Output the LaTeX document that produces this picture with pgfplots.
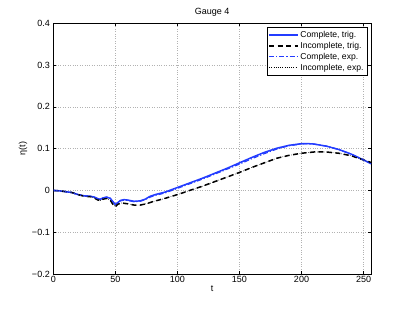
\documentclass[border=0pt]{standalone}
\usepackage{pgfplots}
\pgfplotsset{compat=1.18}
\usepackage{fontspec}
\setmainfont{Liberation Sans}
\definecolor{mblue}{RGB}{35,60,255}
\pgfplotstableread{
t y
0 0
5 -0.001
10 -0.003
15 -0.005
20 -0.010
25 -0.013
30 -0.014
33 -0.016
36 -0.020
38 -0.021
40 -0.018
43 -0.016
46 -0.019
48 -0.027
50 -0.034
52 -0.029
54 -0.024
57 -0.022
60 -0.023
65 -0.026
70 -0.025
74 -0.021
78 -0.014
82 -0.010
90 -0.004
100 0.007
110 0.018
120 0.029
130 0.041
140 0.053
150 0.066
160 0.079
170 0.091
180 0.101
190 0.108
200 0.112
205 0.112
210 0.111
220 0.106
230 0.098
240 0.087
250 0.073
256 0.064
}\comptrig
\pgfplotstableread{
t y
0 0
5 -0.001
10 -0.003
15 -0.005
20 -0.010
25 -0.013
30 -0.014
33 -0.016
36 -0.020
38 -0.021
40 -0.018
43 -0.016
46 -0.019
48 -0.027
50 -0.033
52 -0.029
54 -0.025
57 -0.023
60 -0.024
65 -0.027
70 -0.026
74 -0.022
78 -0.016
82 -0.012
90 -0.006
100 0.005
110 0.016
120 0.027
130 0.039
140 0.051
150 0.063
160 0.076
170 0.088
180 0.099
190 0.107
200 0.111
205 0.112
210 0.111
220 0.106
230 0.098
240 0.087
250 0.073
256 0.064
}\compexp
\pgfplotstableread{
t y
0 0
5 -0.001
10 -0.003
15 -0.005
20 -0.010
25 -0.014
30 -0.015
33 -0.018
36 -0.023
38 -0.024
40 -0.021
43 -0.019
46 -0.024
48 -0.033
50 -0.039
52 -0.033
55 -0.030
60 -0.032
65 -0.035
70 -0.035
75 -0.032
80 -0.027
90 -0.019
100 -0.010
110 0.000
120 0.010
130 0.021
140 0.032
150 0.043
160 0.055
170 0.066
180 0.077
190 0.084
200 0.089
210 0.092
220 0.092
230 0.089
240 0.083
250 0.073
256 0.067
}\incomptrig
\begin{document}
\begin{tikzpicture}
\begin{axis}[
  name=ax,
  scale only axis,
  width=317.7pt, height=250.7pt,
  xmin=0, xmax=256, ymin=-0.2, ymax=0.4,
  xtick={0,50,100,150,200,250},
  ytick={-0.2,-0.1,0,0.1,0.2,0.3,0.4},
  yticklabels={−0.2,−0.1,0,0.1,0.2,0.3,0.4},
  tick align=inside,
  major tick length=3pt,
  tick style={black, line width=0.4pt},
  axis line style={black, line width=0.6pt},
  grid=major,
  grid style={gray!60, dotted, line width=0.4pt},
  ticklabel style={font=\fontsize{9}{10}\selectfont},
  xticklabel style={yshift=1pt},
  /pgf/number format/assume math mode=true,
  title={Gauge 4},
  title style={font=\fontsize{9}{10}\selectfont, yshift=-3pt},
  xlabel={t},
  ylabel={η(t)},
  label style={font=\fontsize{9}{10}\selectfont},
  xlabel style={yshift=4pt},
  ylabel style={yshift=-2pt},
  legend style={at={(1,1)}, anchor=north east, xshift=-3.7pt, yshift=-4pt,
    font=\fontsize{8.6}{10}\selectfont, draw=black, line width=0.6pt,
    inner xsep=1.5pt, inner ysep=1.5pt, row sep=-0.8pt, cells={anchor=west}},
  legend cell align=left,
  legend image code/.code={\draw[#1] (0cm,0cm) -- (1.0cm,0cm);},
]
\addplot[mblue, line width=1.5pt] table[x=t,y=y]{\comptrig};
\addlegendentry{Complete, trig.}
\addplot[black, line width=1.5pt, dash pattern=on 5pt off 3.5pt] table[x=t,y=y]{\incomptrig};
\addlegendentry{Incomplete, trig.}
\addplot[mblue, line width=1.2pt, dash pattern=on 5pt off 2pt on 1.2pt off 2pt] table[x=t,y=y]{\compexp};
\addlegendentry{Complete, exp.}
\addplot[black, line width=0.6pt, dash pattern=on 0.6pt off 1.6pt] table[x=t,y=y]{\incomptrig};
\addlegendentry{Incomplete, exp.}
\end{axis}
\path ([xshift=-53.3pt,yshift=-35pt]ax.south west) rectangle ([xshift=40pt,yshift=23.3pt]ax.north east);
\end{tikzpicture}
\end{document}
